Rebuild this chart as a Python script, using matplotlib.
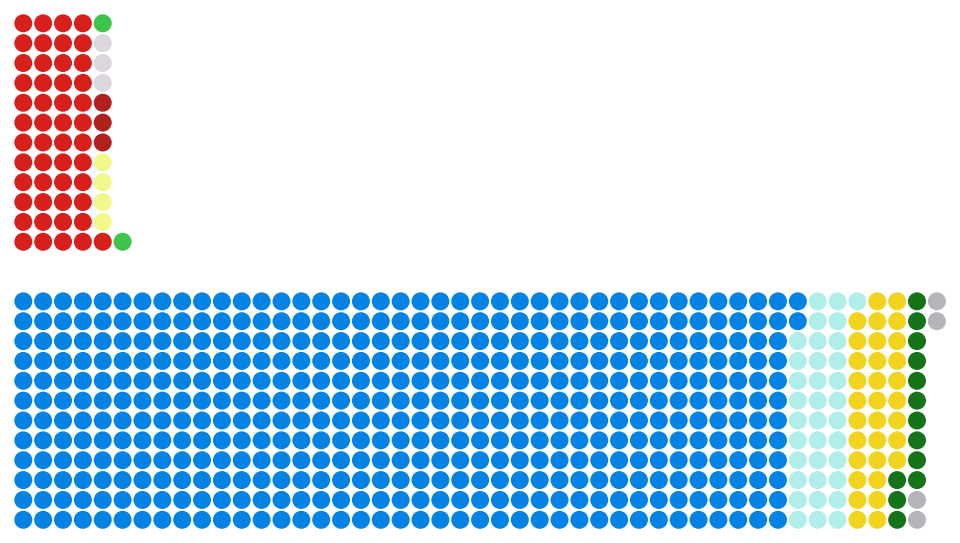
import matplotlib
matplotlib.use("Agg")
import matplotlib.pyplot as plt
import numpy as np

# upper block, filled column by column from the bottom up
top_parties = ["red", "yellow", "darkred", "grey", "green"]
top_counts = [49, 4, 3, 3, 2]
top_colors = ["#d7201c", "#f2f88a", "#b0211d", "#dcd6dd", "#3cc44b"]

# lower block, filled column by column from the top down
bottom_parties = ["blue", "cyan", "yellow", "darkgreen", "grey"]
bottom_counts = [470, 35, 32, 13, 4]
bottom_colors = ["#0583e5", "#b0eeea", "#f2d31d", "#15741a", "#b5b4b9"]

ROWS = 12
GAP_ROWS = 2


def layout(counts, colors, row_offset, bottom_up):
    xs, ys, cs = [], [], []
    i = 0
    for n, c in zip(counts, colors):
        for _ in range(n):
            col, r = divmod(i, ROWS)
            if bottom_up:
                r = ROWS - 1 - r
            xs.append(col)
            ys.append(r + row_offset)
            cs.append(c)
            i += 1
    return xs, ys, cs


tx, ty, tc = layout(top_counts, top_colors, 0, True)
bx, by, bc = layout(bottom_counts, bottom_colors, ROWS + GAP_ROWS, False)

fig = plt.figure(figsize=(9.6, 5.43), dpi=100)
ax = fig.add_axes([0, 0, 1, 1])
step = 19.86
x0 = 23.3
ax.set_xlim(-x0 / step, (960 - x0) / step)
ax.set_ylim((543 - x0) / step, -x0 / step)
ax.axis("off")

size = (18.0 * 72 / 100) ** 2
ax.scatter(tx, ty, s=size, c=tc, linewidths=0)
ax.scatter(bx, by, s=size, c=bc, linewidths=0)

fig.savefig("out.png", dpi=100, facecolor="white")
